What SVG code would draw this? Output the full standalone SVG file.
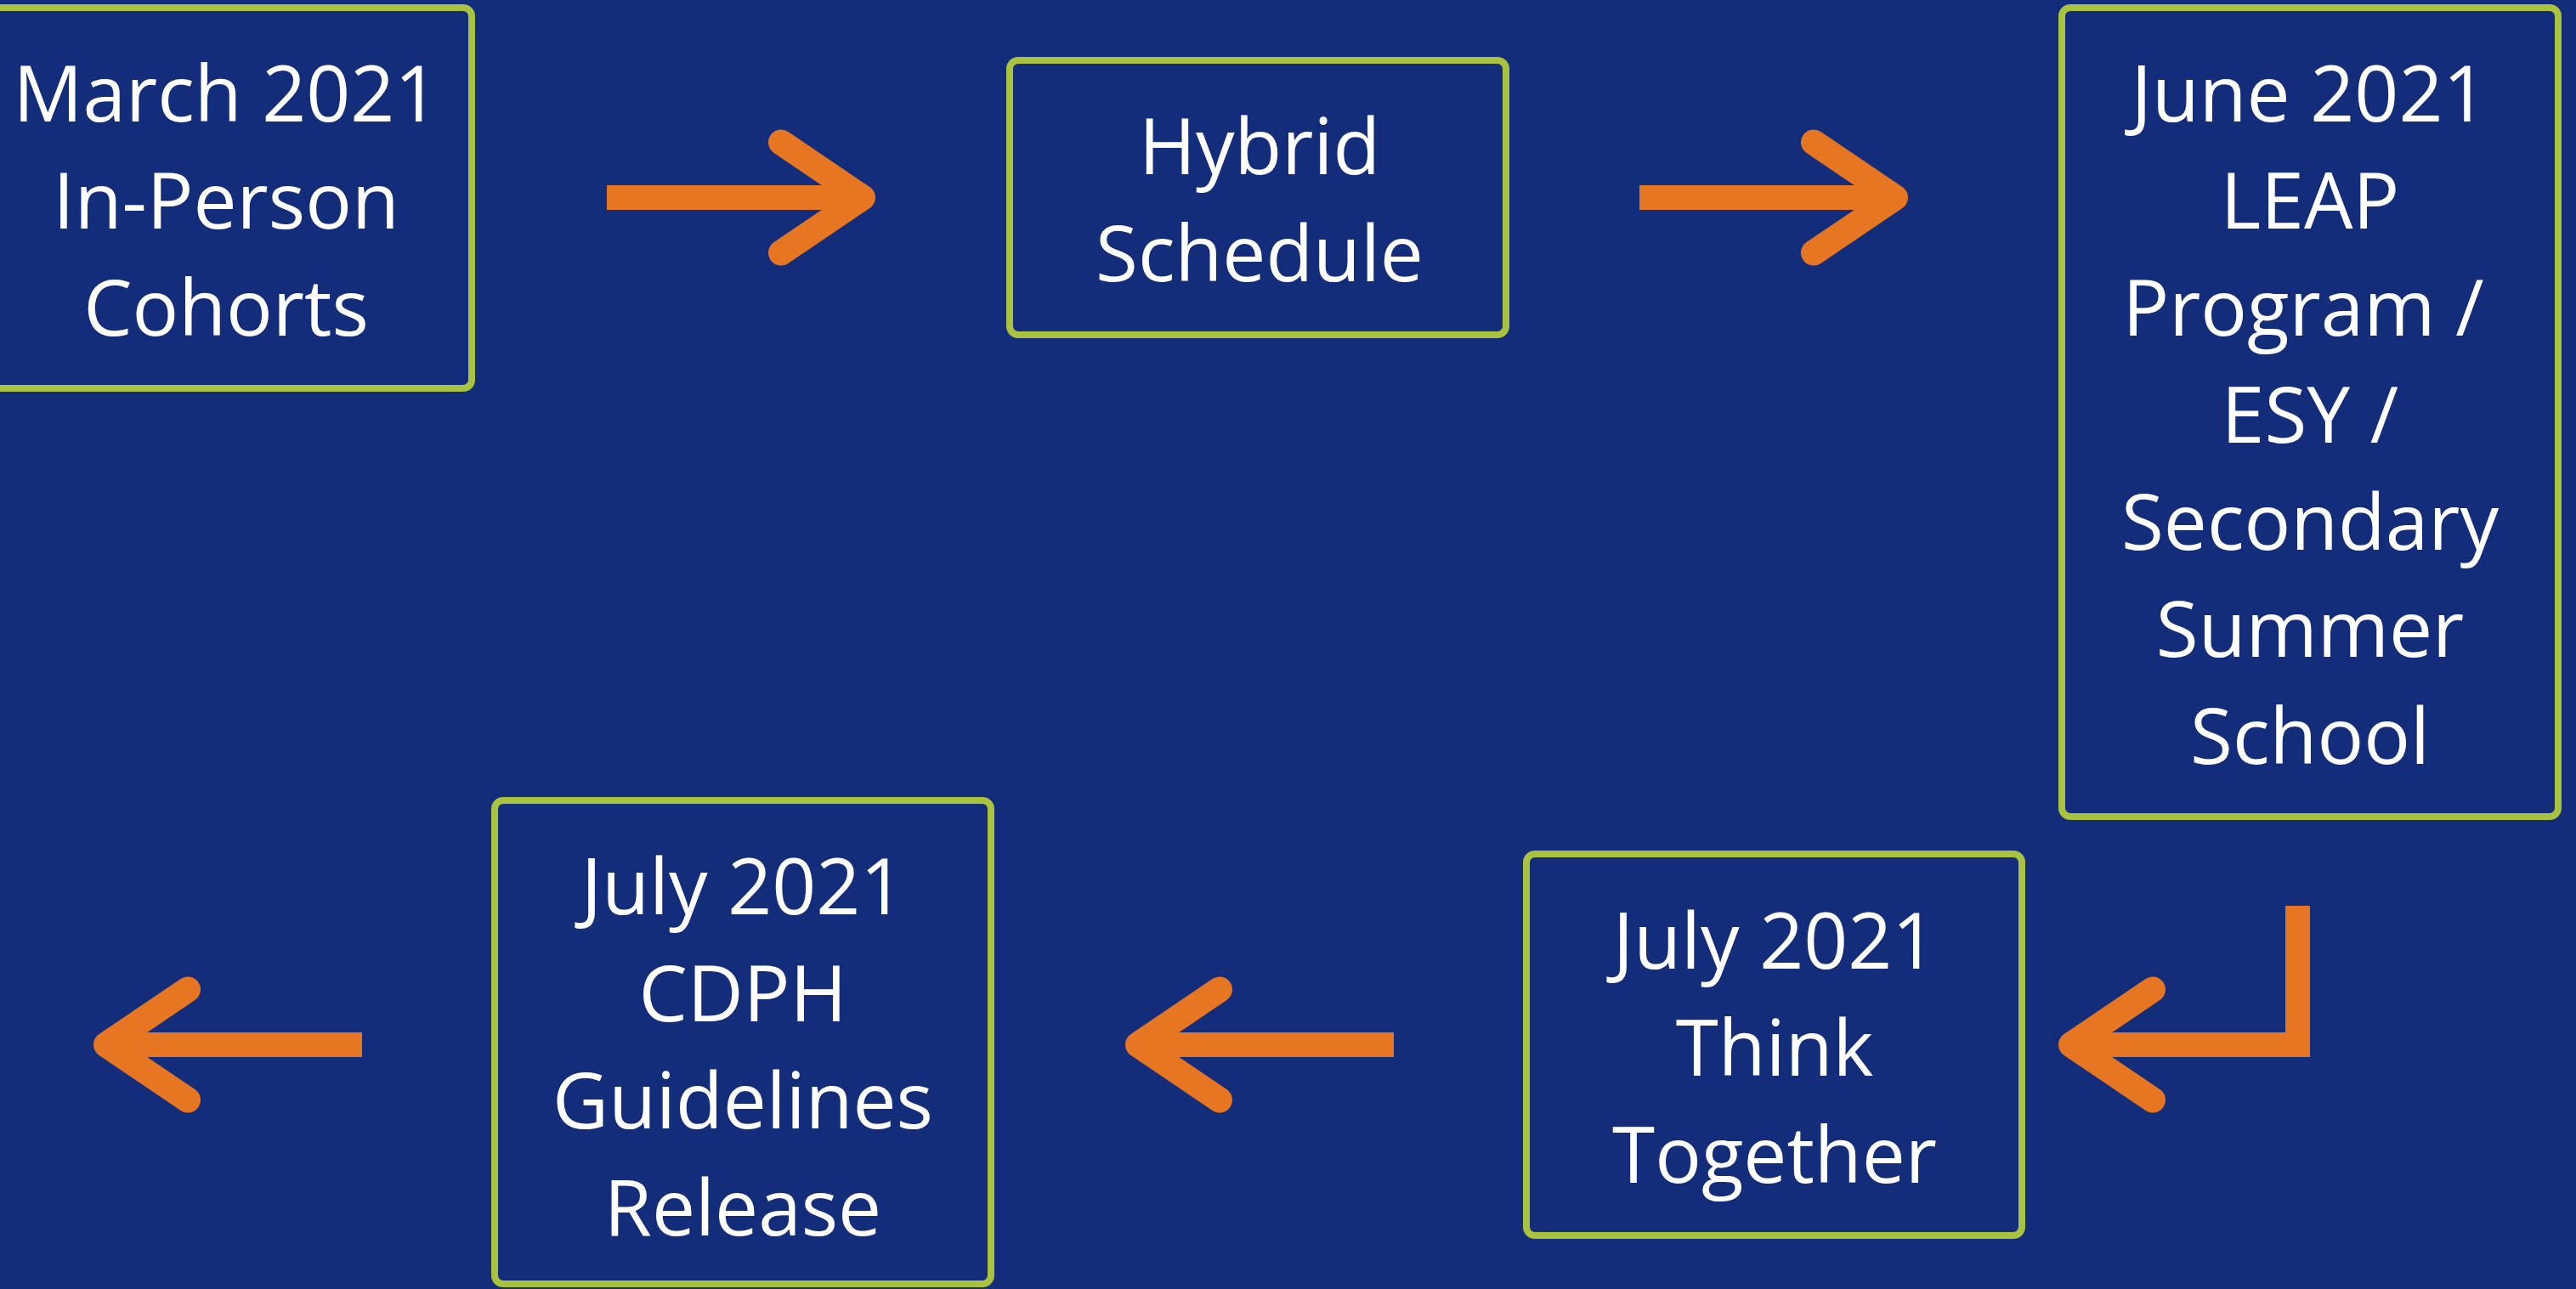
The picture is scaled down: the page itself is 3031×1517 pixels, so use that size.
<svg xmlns="http://www.w3.org/2000/svg" xmlns:xlink="http://www.w3.org/1999/xlink" width="3031" height="1517" viewBox="0 0 3031 1517">
  <style>
    .box { fill: #132d7b; stroke: #a9c23f; stroke-width: 8; }
    .label { fill: #ffffff; font-family: "Open Sans", "Noto Sans", "Liberation Sans", sans-serif; font-size: 91px; text-anchor: middle; }
    .shaft { fill: #e67622; }
    .head { fill: none; stroke: #e67622; stroke-width: 30; stroke-linecap: round; stroke-linejoin: round; }
  </style>
  <defs>
    <!-- right-pointing arrow: origin at the tail, centred on y=0 -->
    <g id="arrowR">
      <rect class="shaft" x="0" y="-14.5" width="292" height="29"/>
      <polyline class="head" points="205,-65 301,0 205,65"/>
    </g>
  </defs>

  <rect x="0" y="0" width="3031" height="1517" fill="#132d7b"/>

  <g id="connectors">
    <use xlink:href="#arrowR" href="#arrowR" transform="translate(714,232.5)"/>
    <use xlink:href="#arrowR" href="#arrowR" transform="translate(1929,232.5)"/>
    <!-- bent return arrow under the June box -->
    <g id="arrow-return">
      <rect class="shaft" x="2689" y="1066" width="29" height="178"/>
      <rect class="shaft" x="2445" y="1215" width="273" height="29"/>
      <polyline class="head" points="2533,1164.5 2437,1229.5 2533,1294.5"/>
    </g>
    <use xlink:href="#arrowR" href="#arrowR" transform="translate(1640,1229.5) scale(-1,1)"/>
    <use xlink:href="#arrowR" href="#arrowR" transform="translate(426,1229.5) scale(-1,1)"/>
  </g>

  <g id="node-march">
    <rect class="box" x="-29" y="9" width="584" height="448" rx="10"/>
    <text class="label" x="266" y="143">March 2021</text>
    <text class="label" x="266" y="269">In-Person</text>
    <text class="label" x="266" y="395">Cohorts</text>
  </g>

  <g id="node-hybrid">
    <rect class="box" x="1188" y="71" width="584" height="323" rx="10"/>
    <text class="label" x="1482" y="205">Hybrid</text>
    <text class="label" x="1482" y="331">Schedule</text>
  </g>

  <g id="node-june">
    <rect class="box" x="2426" y="9" width="584" height="952" rx="10"/>
    <text class="label" x="2717" y="143">June 2021</text>
    <text class="label" x="2718" y="269">LEAP</text>
    <text class="label" x="2710" y="395">Program /</text>
    <text class="label" x="2718" y="521">ESY /</text>
    <text class="label" x="2718" y="647">Secondary</text>
    <text class="label" x="2718" y="773">Summer</text>
    <text class="label" x="2718" y="899">School</text>
  </g>

  <g id="node-think">
    <rect class="box" x="1796" y="1005" width="583" height="449" rx="10"/>
    <text class="label" x="2088" y="1140">July 2021</text>
    <text class="label" x="2088" y="1266">Think</text>
    <text class="label" x="2088" y="1392">Together</text>
  </g>

  <g id="node-cdph">
    <rect class="box" x="582" y="942" width="584" height="569" rx="10"/>
    <text class="label" x="874" y="1076">July 2021</text>
    <text class="label" x="874" y="1202">CDPH</text>
    <text class="label" x="874" y="1328">Guidelines</text>
    <text class="label" x="874" y="1454">Release</text>
  </g>
</svg>
